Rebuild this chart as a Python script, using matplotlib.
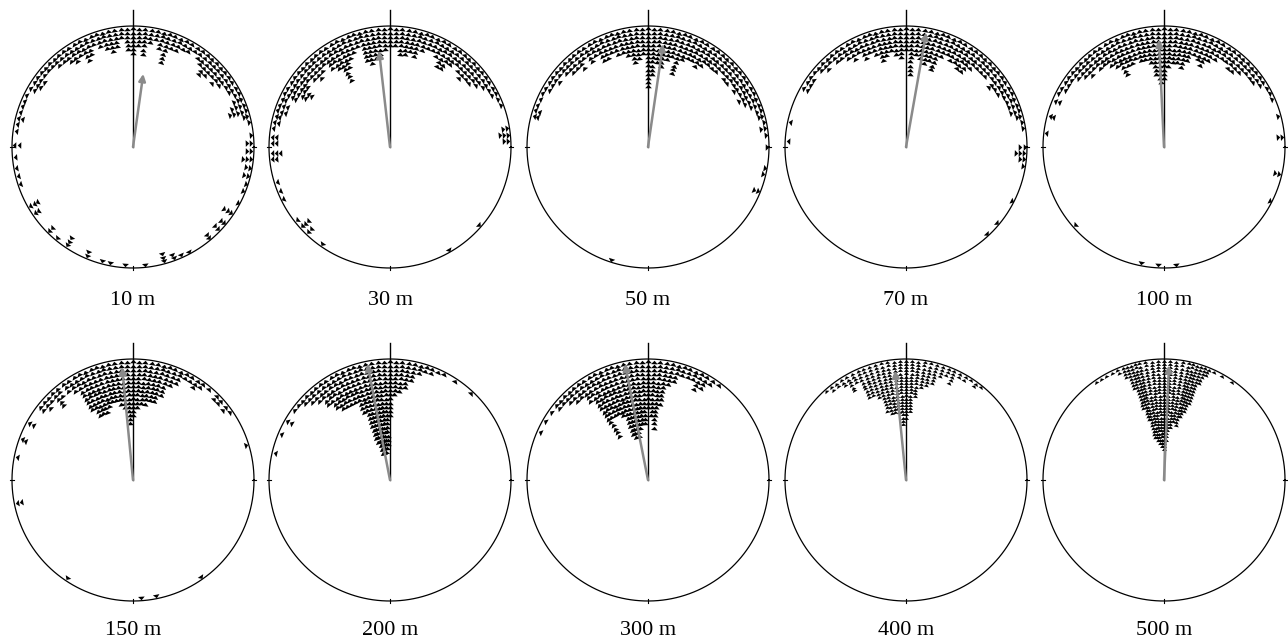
import numpy as np
import matplotlib.pyplot as plt
from matplotlib.markers import MarkerStyle
from matplotlib.transforms import Affine2D

labels = ['10 m', '30 m', '50 m', '70 m', '100 m',
          '150 m', '200 m', '300 m', '400 m', '500 m']

# bearings (deg, clockwise from the top) and number of stacked fixes at each
ang_10 = [*range(-60, 79, 3),
          84, 88, 92, 96, 100, 104, 108, 112, 118, 124, 130, 134, 140, 152, 156,
          160, 165, 174, -176, -169, -165, -157, -146, -140, -135, -124, -120,
          -108, -104, -100, -95, -89, -82, -79, -76, -73, -70, -67, -64]
cnt_10 = [2, 3, 3, 2, 2, 2, 3, 3, 4, 5, 4, 6, 5, 3, 4, 5, 6, 5, 3, 6,
          7, 5, 7, 4, 3, 5, 8, 4, 4, 3, 3, 2, 3, 4, 6, 5, 4, 5, 4, 3,
          3, 2, 3, 4, 5, 2, 1,
          1, 2, 2, 3, 2, 2, 1, 1, 1, 3, 2, 2, 2, 1, 1, 2, 3, 1, 1, 1,
          1, 2, 3, 1, 2, 2, 3, 1, 1, 1, 1, 2, 1, 1, 2, 1, 1, 1, 1]

ang_30 = [*range(-81, 70, 3),
          81, 84, 87, 131, 150, -145, -136, -132, -128, -116, -112, -107,
          -96, -93, -88, -85]
cnt_30 = [1, 2, 2, 3, 3, 2, 4, 6, 7, 5, 4, 5, 6, 5, 4, 6, 7, 11, 8, 6,
          5, 4, 8, 9, 8, 7, 6, 5, 5, 7, 7, 6, 7, 5, 4, 4, 5, 7, 7, 5,
          4, 5, 6, 5, 5, 4, 3, 2, 2, 1, 1,
          2, 3, 2, 1, 1, 1, 2, 3, 1, 1, 1, 1, 2, 3, 2, 2]

ang_50 = [*range(-75, 85, 3), 90, 100, 103, 112, -162]
cnt_50 = [2, 2, 1, 1, 1, 2, 2, 3, 2, 3, 4, 4, 5, 3, 5, 4, 6, 6, 5, 6,
          6, 7, 9, 8, 7, 15, 12, 9, 10, 8, 7, 11, 7, 6, 6, 7, 6, 5, 5, 5,
          4, 5, 5, 4, 5, 4, 5, 4, 3, 2, 2, 1, 2, 1,
          1, 1, 1, 2, 1]

ang_70 = [*range(-60, 82, 3), 90, 93, 96, 99, 117, 130, 137, -78, -87]
cnt_70 = [2, 2, 2, 1, 2, 3, 2, 3, 3, 4, 5, 4, 6, 5, 6, 8, 7, 6, 7, 8,
          6, 12, 7, 8, 9, 8, 10, 6, 5, 6, 6, 7, 7, 5, 4, 4, 4, 3, 5, 4,
          4, 3, 3, 3, 3, 2, 1, 1,
          2, 3, 2, 1, 1, 1, 1, 1, 1]

ang_100 = [*range(-63, 67, 3), -67, -75, -83, 75, 85, 103, 117, -131, -169, -177, 174]
cnt_100 = [1, 2, 2, 2, 3, 4, 5, 4, 5, 5, 6, 7, 10, 8, 8, 7, 8, 8, 9, 12,
           14, 13, 10, 9, 9, 10, 8, 6, 7, 8, 6, 5, 4, 4, 5, 5, 4, 3, 3, 3,
           2, 1, 1, 1,
           2, 2, 1, 1, 2, 2, 1, 1, 1, 1, 1]

ang_150 = [*range(-30, 28, 3),
           -33, -36, -40, -43, -46, -49, -52, -61, -70, -79, -101, -146,
           30, 33, 36, 40, 45, 48, 52, 55, 73, 145, 169, 176]
cnt_150 = [10, 12, 12, 12, 11, 10, 10, 11, 12, 16, 14, 12, 11, 11, 10, 10, 8, 5, 4, 2,
           4, 3, 3, 5, 2, 3, 2, 2, 2, 1, 2, 1,
           2, 3, 2, 1, 2, 2, 2, 1, 1, 1, 1, 1]

ang_200 = [-77, -67, -60, -54, -51, -48, -45, -42, -39, -36, -33, -30, -27, -24,
           -21, -18, -15, -12, -9, -6, -3, 0, 3, 6, 9, 12, 15, 18, 21, 24, 27, 33, 43]
cnt_200 = [1, 1, 2, 1, 1, 2, 3, 4, 6, 8, 9, 9, 9, 9,
           12, 20, 23, 23, 23, 22, 21, 14, 9, 8, 7, 5, 3, 2, 2, 1, 1, 1, 1]

ang_300 = [-66, -60, -55, -51, -48, -45, -42, -39, -36, -33, -30, -27, -24, -21,
           -18, -15, -12, -9, -6, -3, 0, 3, 6, 9, 12, 15, 18, 21, 24, 27, 30, 33, 37]
cnt_300 = [1, 1, 1, 2, 2, 3, 4, 4, 6, 17, 12, 12, 12, 13,
           18, 19, 19, 17, 16, 16, 12, 14, 17, 11, 6, 5, 3, 3, 3, 5, 4, 2, 1]

ang_400 = [-42, -39, -36, -33, -30, -27, -24, -21, -18, -15, -12, -9, -6, -3,
           0, 3, 6, 9, 12, 15, 18, 21, 24, 27, 30, 33, 36, 39]
cnt_400 = [1, 2, 2, 3, 6, 4, 10, 10, 11, 16, 17, 17, 17, 21,
           19, 17, 12, 9, 8, 7, 4, 3, 5, 2, 2, 1, 2, 1]

ang_500 = [-35, -32, -29, -26, -23, -20, -18, -16, -14, -12, -9, -6, -3,
           0, 3, 6, 9, 12, 14, 16, 18, 20, 22, 25, 29, 35]
cnt_500 = [1, 1, 1, 1, 2, 4, 8, 15, 19, 25, 26, 27, 28,
           29, 26, 22, 20, 21, 18, 16, 13, 6, 3, 1, 1, 1]

# mean vector: direction (deg) and length r
mean_dir = [8, -6.5, 8.3, 10, -2.7, -5.5, -11, -11.2, -5.7, 2.5]
mean_len = [0.61, 0.80, 0.86, 0.96, 0.89, 0.94, 0.98, 0.98, 0.91, 0.95]

panels = [(ang_10, cnt_10), (ang_30, cnt_30), (ang_50, cnt_50), (ang_70, cnt_70),
          (ang_100, cnt_100), (ang_150, cnt_150), (ang_200, cnt_200),
          (ang_300, cnt_300), (ang_400, cnt_400), (ang_500, cnt_500)]
for a, c in panels:
    assert len(a) == len(c)

W, H = 1288, 638
R = 121
cx = [133, 390, 648, 906, 1164]
cy = [147, 480]
lab_y = [-1.265, -1.24]
ms = [4.8] * 8 + [3.8, 3.8]
step = [0.034] * 8 + [0.026, 0.026]
x0, x1, y0, y1 = -1.06, 1.06, -1.4, 1.17

# flat triangle, wider than tall, pointing up
tri = [(-0.75, -0.4), (0.75, -0.4), (0, 0.4), (-0.75, -0.4)]

fig = plt.figure(figsize=(W / 100, H / 100), dpi=100)

for i, lab in enumerate(labels):
    ang, cnt = panels[i]
    px, py = cx[i % 5], cy[i // 5]
    ax = fig.add_axes([(px + x0 * R) / W, (H - py + y0 * R) / H,
                       (x1 - x0) * R / W, (y1 - y0) * R / H])
    ax.set_xlim(x0, x1)
    ax.set_ylim(y0, y1)
    ax.axis('off')

    t = np.linspace(0, 2 * np.pi, 500)
    ax.plot(np.cos(t), np.sin(t), color='black', lw=0.9, zorder=2)
    for d in [90, 180, 270]:
        th = np.radians(d)
        ax.plot([0.98 * np.sin(th), 1.02 * np.sin(th)],
                [0.98 * np.cos(th), 1.02 * np.cos(th)], color='black', lw=0.8)

    # stacked triangles pointing outward
    r0 = 1 - 0.6 * step[i]
    for a, n in zip(ang, cnt):
        th = np.radians(a)
        r = r0 - step[i] * np.arange(n)
        m = MarkerStyle(tri, transform=Affine2D().rotate_deg(-a))
        ax.plot(r * np.sin(th), r * np.cos(th), linestyle='none',
                marker=m, ms=ms[i], mew=0, color='black', zorder=3)

    ax.plot([0, 0], [0, 1.13], color='black', lw=1.0, zorder=4)

    th = np.radians(mean_dir[i])
    ax.annotate('', xy=(mean_len[i] * np.sin(th), mean_len[i] * np.cos(th)),
                xytext=(0, 0), zorder=5,
                arrowprops=dict(arrowstyle='-|>', color='#8a8a8a', lw=1.8,
                                mutation_scale=10, shrinkA=0, shrinkB=0))

    ax.text(0, lab_y[i // 5], lab, ha='center', va='center', fontsize=16,
            family='Liberation Serif')

fig.savefig('out.png', dpi=100)
